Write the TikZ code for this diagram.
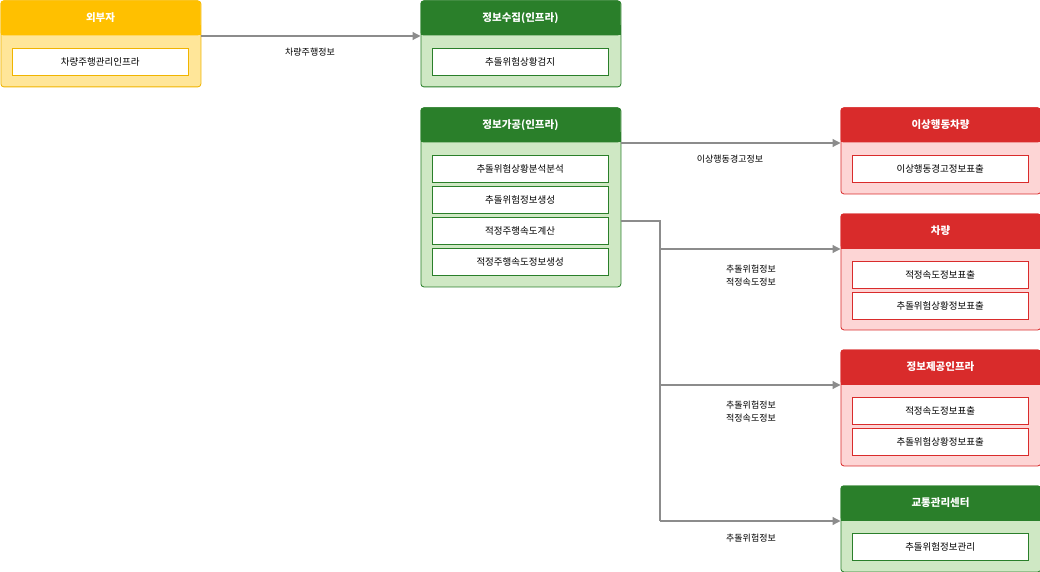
\documentclass[tikz,border=0pt]{standalone}
\usepackage{fontspec}
\setmainfont{Noto Sans CJK KR}
\usetikzlibrary{arrows.meta}
\definecolor{orh}{HTML}{FFC000}\definecolor{orb}{HTML}{FFE699}\definecolor{orl}{HTML}{F0B400}
\definecolor{grh}{HTML}{2A7F2A}\definecolor{grb}{HTML}{CFE8C4}\definecolor{grl}{HTML}{2A7F2A}
\definecolor{rdh}{HTML}{D92B2B}\definecolor{rdb}{HTML}{FDD5D5}\definecolor{rdl}{HTML}{D92B2B}
\definecolor{arr}{HTML}{8C8C8C}
\tikzset{
 body/.style={draw=#1l,fill=#1b,line width=0.8pt,rounded corners=3pt,anchor=north west,minimum width=200pt,inner sep=0pt},
 head/.style={fill=#1h,anchor=north west,minimum width=200pt,minimum height=35pt,inner sep=0pt,text=white,font=\bfseries\fontsize{10.5}{12}\selectfont},
 item/.style={draw=#1l,fill=white,anchor=north west,minimum width=176pt,minimum height=27pt,inner sep=0pt,font=\fontsize{9.5}{11}\selectfont},
 conn/.style={draw=arr,line width=1.2pt,-{Triangle[length=8pt,width=8pt]}},
 lab/.style={font=\fontsize{9}{11}\selectfont,align=center}
}
\newcommand\mybox[6]{%
 \node[body=#5,minimum height=#4pt] (#1) at (#2,#3) {};
 \fill[#5h,rounded corners=3pt] (#2,#3) rectangle ++(200,35);
 \fill[#5h] (#2,#3+25) rectangle ++(200,10);
 \node[text=white,font=\bfseries\fontsize{10.5}{12}\selectfont] (#1h) at (#2+100,#3+17.5) {#6};}
\begin{document}
\begin{tikzpicture}[x=1pt,y=-1pt]
\useasboundingbox (0,0) rectangle (1040,572);
\mybox{ext}{0.5}{0.5}{86}{or}{외부자}
\node[item=or] (ext1) at (12,48) {차량주행관리인프라};
\mybox{col}{420.5}{0.5}{86}{gr}{정보수집(인프라)}
\node[item=gr] (col1) at (432,48) {추돌위험상황검지};
\mybox{proc}{420.5}{107.5}{179}{gr}{정보가공(인프라)}
\node[item=gr] (p1) at (432,155) {추돌위험상황분석분석};
\node[item=gr] (p2) at (432,186) {추돌위험정보생성};
\node[item=gr] (p3) at (432,217) {적정주행속도계산};
\node[item=gr] (p4) at (432,248) {적정주행속도정보생성};
\mybox{abn}{840.5}{107.5}{86}{rd}{이상행동차량}
\node[item=rd] (a1) at (852,155) {이상행동경고정보표출};
\mybox{car}{840.5}{213.5}{116}{rd}{차량}
\node[item=rd] (c1) at (852,261) {적정속도정보표출};
\node[item=rd] (c2) at (852,292) {추돌위험상황정보표출};
\mybox{inf}{840.5}{349.5}{116}{rd}{정보제공인프라}
\node[item=rd] (i1) at (852,397) {적정속도정보표출};
\node[item=rd] (i2) at (852,428) {추돌위험상황정보표출};
\mybox{tmc}{840.5}{485.5}{86}{gr}{교통관리센터}
\node[item=gr] (t1) at (852,533) {추돌위험정보관리};
\coordinate (s1) at (200.5,36); \coordinate (e1) at (420.5,36);
\draw[conn] (s1) -- (e1);
\node[lab] (l1) at (310,52) {차량주행정보};
\coordinate (s2) at (620.5,143); \coordinate (e2) at (840.5,143);
\draw[conn] (s2) -- (e2);
\node[lab] (l2) at (730,159) {이상행동경고정보};
\coordinate (s3) at (620.5,221); \coordinate (j) at (660,221);
\coordinate (e3) at (840.5,249); \coordinate (e4) at (840.5,385); \coordinate (e5) at (840.5,521);
\draw[draw=arr,line width=1.2pt] (s3) -- (j) -- (660,521);
\draw[conn] (660,249) -- (e3);
\draw[conn] (660,385) -- (e4);
\draw[conn] (660,521) -- (e5);
\node[lab] (l3) at (751,276) {추돌위험정보\\[2pt]적정속도정보};
\node[lab] (l4) at (751,412) {추돌위험정보\\[2pt]적정속도정보};
\node[lab] (l5) at (751,538) {추돌위험정보};
\end{tikzpicture}
\end{document}
